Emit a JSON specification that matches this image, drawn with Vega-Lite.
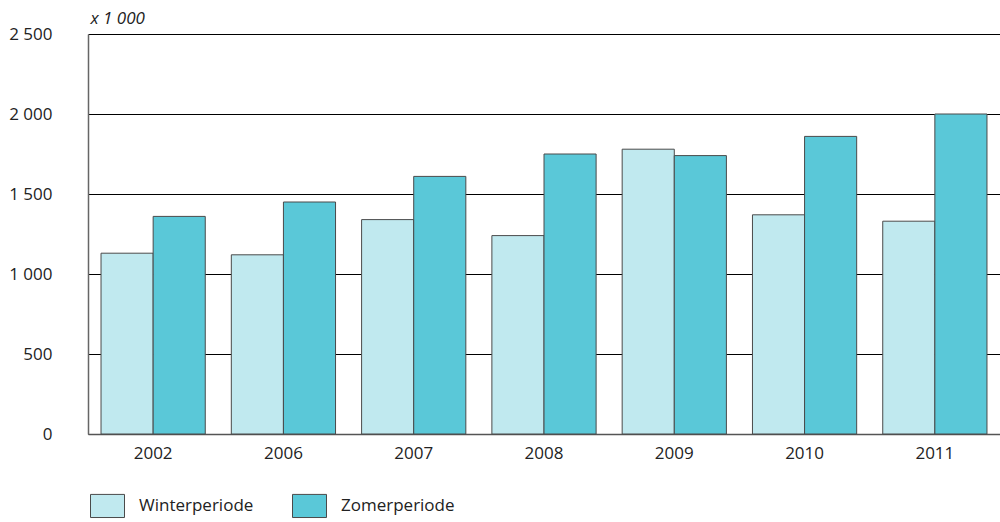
{
  "$schema": "https://vega.github.io/schema/vega-lite/v6.json",
  "width": 912,
  "height": 400,
  "autosize": {"type": "none"},
  "padding": {"left": 88, "top": 34, "right": 0, "bottom": 88},
  "config": {
    "view": {"stroke": null},
    "font": "Open Sans",
    "axis": {"labelFont": "Open Sans", "labelFontSize": 17, "labelColor": "#222222", "titleFont": "Open Sans"}
  },
  "data": {
    "values": [
      {"year": "2002", "period": "Winterperiode", "value": 1130},
      {"year": "2002", "period": "Zomerperiode", "value": 1360},
      {"year": "2006", "period": "Winterperiode", "value": 1120},
      {"year": "2006", "period": "Zomerperiode", "value": 1450},
      {"year": "2007", "period": "Winterperiode", "value": 1340},
      {"year": "2007", "period": "Zomerperiode", "value": 1610},
      {"year": "2008", "period": "Winterperiode", "value": 1240},
      {"year": "2008", "period": "Zomerperiode", "value": 1750},
      {"year": "2009", "period": "Winterperiode", "value": 1780},
      {"year": "2009", "period": "Zomerperiode", "value": 1740},
      {"year": "2010", "period": "Winterperiode", "value": 1370},
      {"year": "2010", "period": "Zomerperiode", "value": 1860},
      {"year": "2011", "period": "Winterperiode", "value": 1330},
      {"year": "2011", "period": "Zomerperiode", "value": 2000}
    ]
  },
  "mark": {"type": "bar", "stroke": "#4a4a4a", "strokeWidth": 1},
  "encoding": {
    "x": {
      "field": "year",
      "type": "nominal",
      "scale": {"paddingInner": 0.2, "paddingOuter": 0.1},
      "axis": {
        "title": null,
        "labelAngle": 0,
        "ticks": false,
        "domainColor": "#555555",
        "domainWidth": 1.5,
        "labelPadding": 11
      }
    },
    "xOffset": {"field": "period", "type": "nominal", "sort": ["Winterperiode", "Zomerperiode"]},
    "y": {
      "field": "value",
      "type": "quantitative",
      "scale": {"domain": [0, 2500]},
      "axis": {
        "values": [0, 500, 1000, 1500, 2000, 2500],
        "labelExpr": "replace(format(datum.value, ','), ',', ' ')",
        "ticks": false,
        "labelPadding": 36,
        "domainColor": "#666666",
        "domainWidth": 1.5,
        "grid": true,
        "gridColor": "#000000",
        "gridWidth": 1,
        "title": "x 1 000",
        "titleAngle": 0,
        "titleX": 2,
        "titleY": -16,
        "titleAlign": "left",
        "titleBaseline": "middle",
        "titleFontStyle": "italic",
        "titleFontWeight": "normal",
        "titleFontSize": 17,
        "titleColor": "#222222"
      }
    },
    "color": {
      "field": "period",
      "type": "nominal",
      "scale": {"domain": ["Winterperiode", "Zomerperiode"], "range": ["#c0e9ef", "#5ac8d8"]},
      "legend": {
        "title": null,
        "orient": "none",
        "legendX": 2,
        "legendY": 454,
        "direction": "horizontal",
        "padding": 0,
        "symbolType": "M-1,-0.68h2v1.36h-2z",
        "symbolSize": 1156,
        "symbolStrokeColor": "#4a4a4a",
        "symbolStrokeWidth": 1,
        "symbolOpacity": 1,
        "labelFontSize": 17,
        "labelColor": "#222222",
        "labelFont": "Open Sans",
        "labelOffset": 14,
        "columnPadding": 36
      }
    }
  }
}
